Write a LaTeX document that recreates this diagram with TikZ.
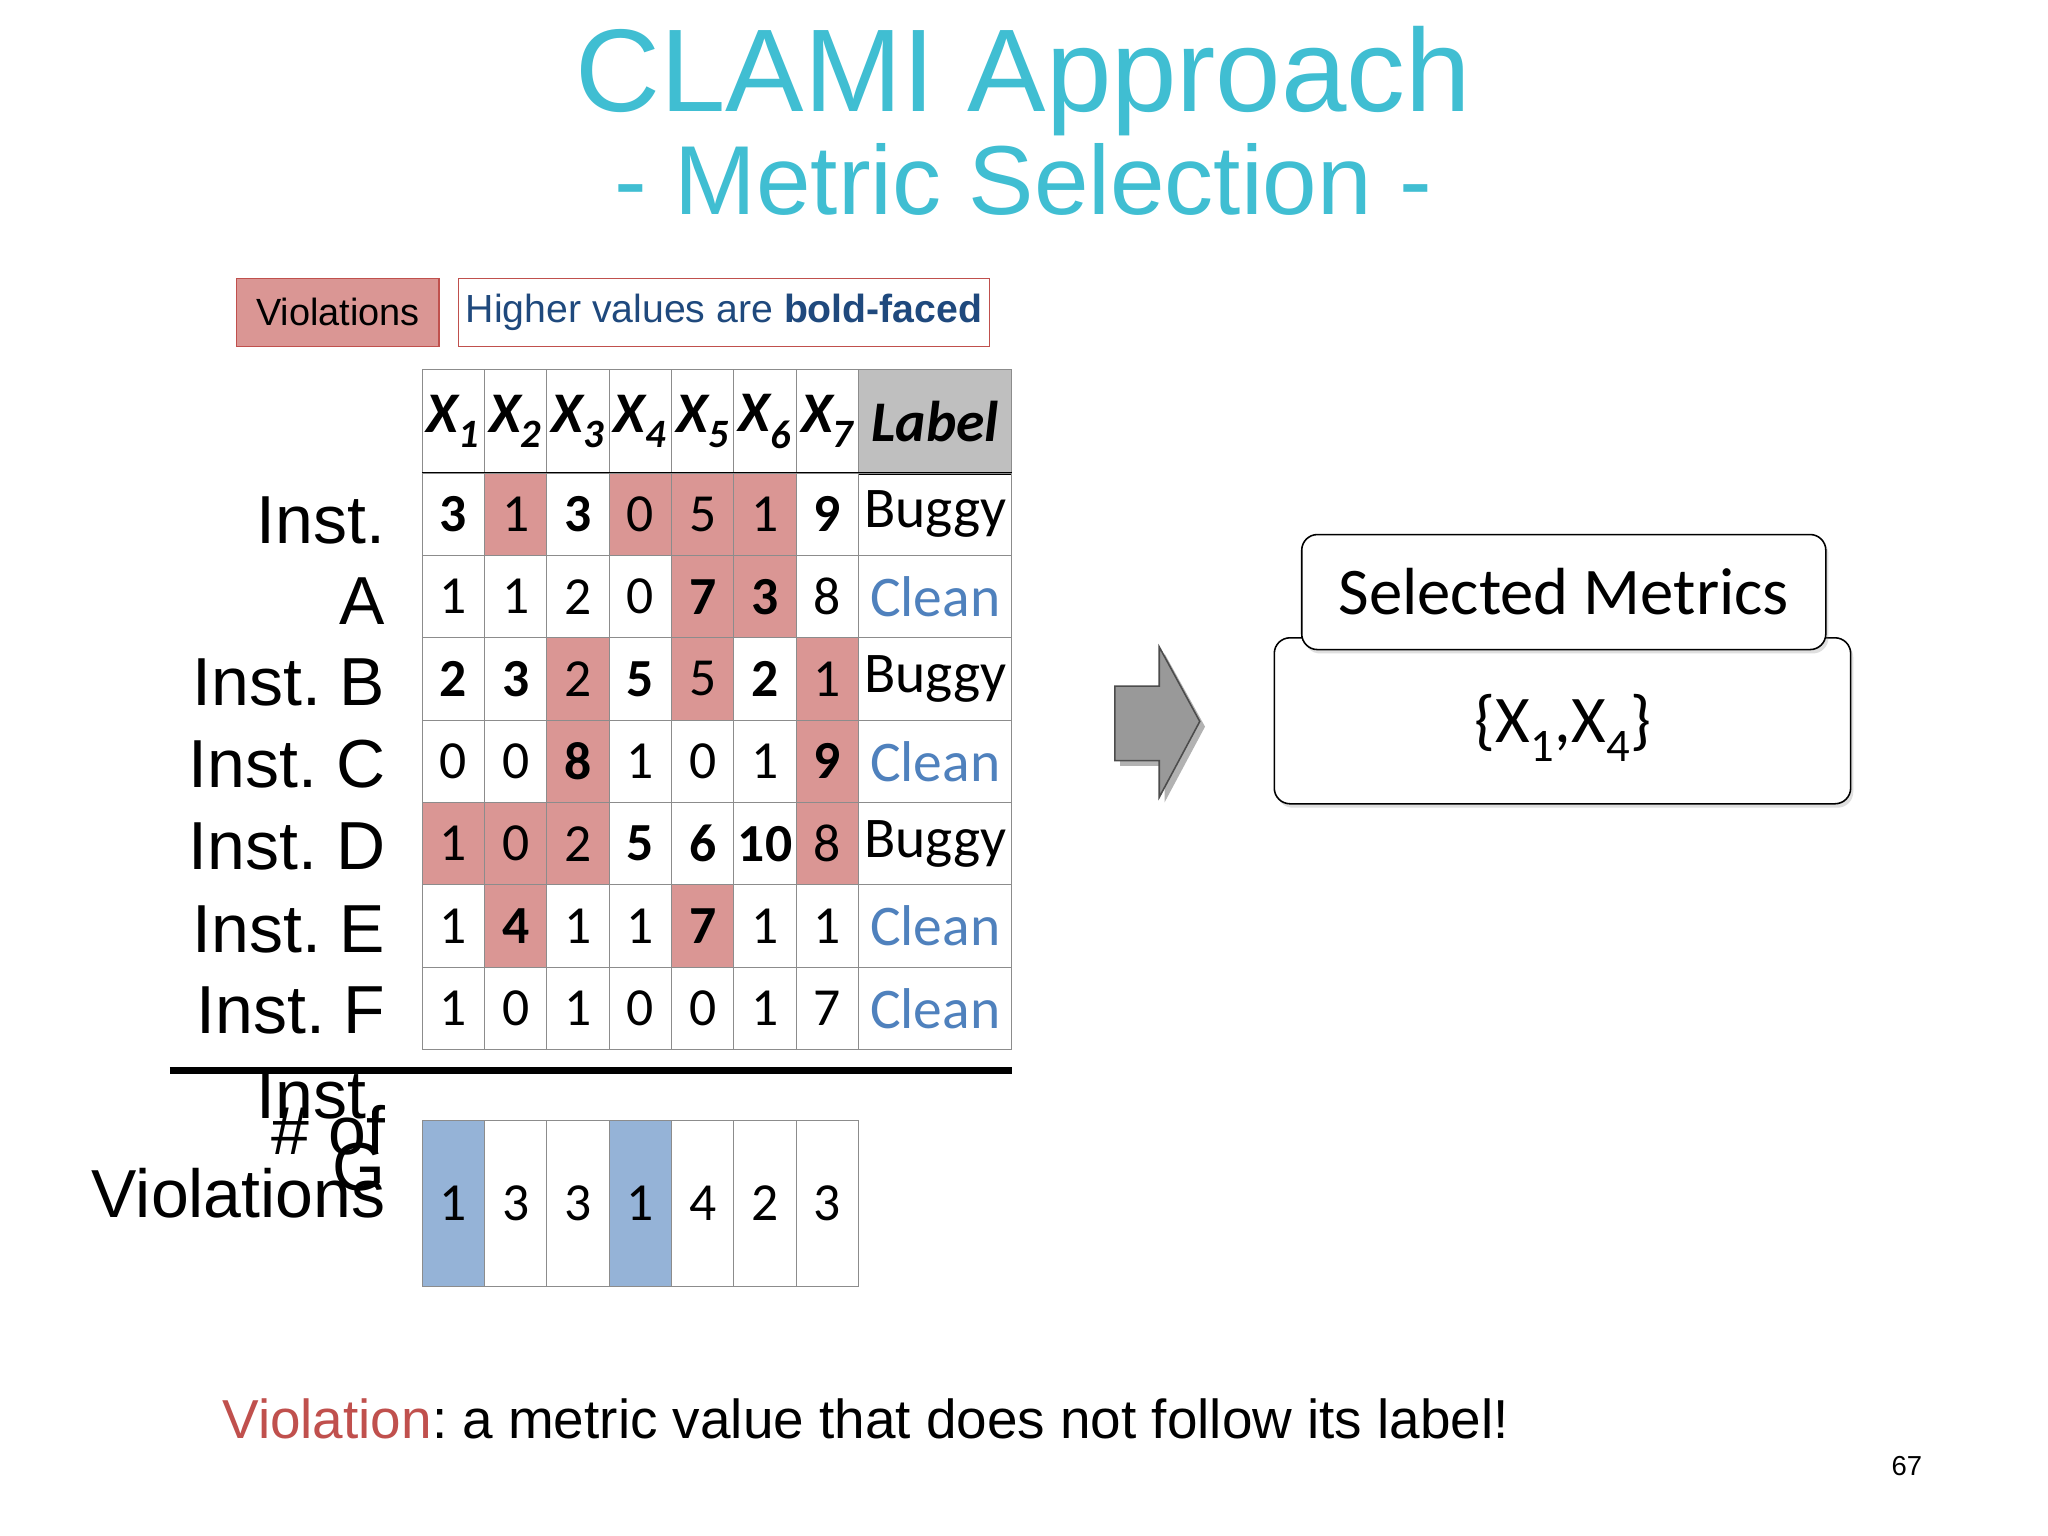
\documentclass[tikz,border=0pt]{standalone}
\usepackage{fontspec}
\setmainfont{Liberation Sans}
\newfontfamily\calib{Carlito}
\usetikzlibrary{shadows}
\definecolor{ttl}{RGB}{64,190,210}
\definecolor{viol}{RGB}{218,150,148}
\definecolor{vbord}{RGB}{192,80,77}
\definecolor{dblue}{RGB}{31,73,125}
\definecolor{cblue}{RGB}{79,129,189}
\definecolor{selb}{RGB}{149,179,215}
\definecolor{hdr}{RGB}{191,191,191}
\frenchspacing
\begin{document}
\begin{tikzpicture}[x=1pt,y=-1pt,
  cell/.style={draw=black!45,line width=0.6pt,minimum width=47.7pt,minimum height=63pt,inner sep=0pt,font=\calib\fontsize{41}{41}\selectfont},
  lab/.style={anchor=east,font=\fontsize{52}{52}\selectfont,inner sep=0pt},
  rbox/.style={draw,rounded corners=12pt,line width=1.2pt,fill=white,drop shadow={opacity=0.25,shadow xshift=2pt,shadow yshift=-3pt}}]
\useasboundingbox (0,0) rectangle (1567,1175);
\fill[white] (0,0) rectangle (1567,1175);
\node[text=ttl,font=\fontsize{90}{90}\selectfont] (t1) at (783,62) {CLAMI Approach};
\node[text=ttl,font=\fontsize{75}{75}\selectfont] (t2) at (783,137) {- Metric Selection -};
\node[draw=vbord,fill=viol,line width=1pt,minimum width=155pt,minimum height=52pt,inner sep=0pt,font=\fontsize{29}{29}\selectfont] (vb) at (258.5,239) {Violations};
\node[draw=vbord,line width=1pt,minimum width=406pt,minimum height=52pt,inner sep=0pt,text=dblue,font=\fontsize{30}{30}\selectfont] (hb) at (554,239) {Higher values are \textbf{bold-faced}};
% header
\foreach \i in {1,...,7}{
  \node[cell,minimum height=79pt,font=\calib\bfseries\itshape\fontsize{44}{44}\selectfont] (h\i) at ({323+47.7*(\i-0.5)},322.5) {X\textsubscript{\i}};
}
\node[cell,minimum width=117pt,minimum height=79pt,fill=hdr,font=\calib\bfseries\itshape\fontsize{44}{44}\selectfont] (hl) at (715.5,322.5) {Label};
\draw[line width=2pt] (h1.south west) -- (hl.south east);
% rows
\foreach \r/\row/\lb in {
 1/{3/0/1,1/1/0,3/0/1,0/1/0,5/1/0,1/1/0,9/0/1}/B,
 2/{1/0/0,1/0/0,2/0/0,0/0/0,7/1/1,3/1/1,8/0/0}/C,
 3/{2/0/1,3/0/1,2/1/0,5/0/1,5/1/0,2/0/1,1/1/0}/B,
 4/{0/0/0,0/0/0,8/1/1,1/0/0,0/0/0,1/0/0,9/1/1}/C,
 5/{1/1/0,0/1/0,2/1/0,5/0/1,6/0/1,10/0/1,8/1/0}/B,
 6/{1/0/0,4/1/1,1/0/0,1/0/0,7/1/1,1/0/0,1/0/0}/C,
 7/{1/0/0,0/0/0,1/0/0,0/0/0,0/0/0,1/0/0,7/0/0}/C}{
  \foreach \v/\f/\b [count=\c] in \row {
    \ifnum\f=1 \def\fc{viol}\else\def\fc{white}\fi
    \ifnum\b=1 \def\bfx{\bfseries}\else\def\bfx{}\fi
    \node[cell,fill=\fc] (c\r-\c) at ({323+47.7*(\c-0.5)},{362+63*(\r-0.5)}) {\bfx\v};
  }
  \if\lb B
    \node[cell,minimum width=117pt,font=\calib\fontsize{44}{44}\selectfont] (l\r) at (715.5,{362+63*(\r-0.5)}) {Buggy};
  \else
    \node[cell,minimum width=117pt,text=cblue,font=\calib\fontsize{44}{44}\selectfont] (l\r) at (715.5,{362+63*(\r-0.5)}) {Clean};
  \fi
}
% row labels
\node[lab] (ra) at (295,398) {Inst.};
\node[lab] (ra2) at (295,460) {A};
\node[lab] (rb) at (295,522) {Inst. B};
\node[lab] (rc) at (295,585) {Inst. C};
\node[lab] (rd) at (295,648) {Inst. D};
\node[lab] (re) at (295,711) {Inst. E};
\node[lab] (rf) at (295,773) {Inst. F};
\coordinate (ls) at (130,819);
\coordinate (le) at (774,819);
\draw[line width=5pt] (ls) -- (le);
\node[lab] (rg1) at (295,838) {Inst.};
\node[lab] (rg2) at (295,865) {\# of};
\node[lab] (rg3) at (295,893) {G};
\node[lab] (rg4) at (295,913) {Violations};
% bottom counts
\foreach \v/\f [count=\c] in {1/1,3/0,3/0,1/1,4/0,2/0,3/0}{
  \ifnum\f=1 \def\fc{selb}\else\def\fc{white}\fi
  \node[cell,minimum height=127pt,fill=\fc] (s\c) at ({323+47.7*(\c-0.5)},920.5) {\v};
}
% arrow
\fill[black!30] (857,529) -- (891,529) -- (891,500) -- (922,556) -- (891,614) -- (891,586) -- (857,586) -- cycle;
\draw[fill=black!40,line width=1.2pt,draw=black!70] (853,525) -- (887,525) -- (887,495) -- (918,552) -- (887,610) -- (887,582) -- (853,582) -- cycle;
% selected metrics
\node[rbox,minimum width=441pt,minimum height=127pt] (big) at (1195.5,551.5) {};
\node[rbox,minimum width=401pt,minimum height=88pt,font=\calib\fontsize{51}{51}\selectfont] (tab) at (1196.5,453) {Selected Metrics};
\node[font=\calib\fontsize{51}{51}\selectfont] (set) at (1196,557) {\{X\textsubscript{1},X\textsubscript{4}\}};
% footer
\node[anchor=west,font=\fontsize{42}{42}\selectfont,inner sep=0pt] (ft) at (170,1086) {\textcolor{vbord}{Violation}: a metric value that does not follow its label!};
\node[font=\fontsize{21}{21}\selectfont] (pg) at (1459,1122) {67};
\end{tikzpicture}
\end{document}
